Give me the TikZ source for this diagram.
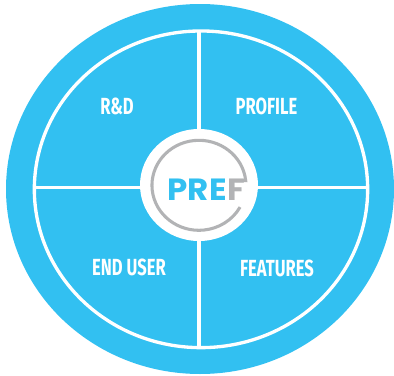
\documentclass[tikz,border=0pt]{standalone}
\usepackage{fontspec}
\usepackage{tikz}
\usetikzlibrary{shapes.geometric}
\newfontfamily\labelfont[FakeStretch=0.71]{Fira Sans}
\newfontfamily\logofont[FakeStretch=1.06]{Poppins}
\definecolor{prefblue}{RGB}{50,192,241}
\definecolor{prefgray}{RGB}{178,179,181}
\tikzset{
  disc/.style={ellipse,inner sep=0pt,outer sep=0pt},
  rule/.style={draw=white,line width=2.5pt},
  sector/.style={inner sep=0pt,text=white,font=\labelfont\bfseries\fontsize{17.5}{17.5}\selectfont},
  logo/.style={inner sep=0pt,font=\logofont\bfseries\fontsize{23}{23}\selectfont}
}
\begin{document}
\begin{tikzpicture}[x=0.75pt,y=0.75pt,yscale=-1,xscale=1]
    \useasboundingbox (0,0) rectangle (394,376);
    
    % Outer disc and white ring
    \node (outer) [disc,fill=prefblue,minimum width=291pt,minimum height=277.5pt] at (200,189) {};
    \node (ring) [disc,rule,minimum width=250pt,minimum height=237.5pt] at (201,189.3) {};
    
    % Cross
    \coordinate (ringN) at (199,31);
    \coordinate (ringS) at (199,348);
    \coordinate (ringW) at (34.5,187.3);
    \coordinate (ringE) at (367.5,187.3);
    \draw [rule] (ringN) -- (ringS);
    \draw [rule] (ringW) -- (ringE);
    
    % Hub
    \node (hub) [disc,fill=white,minimum width=88.5pt,minimum height=84pt] at (199,185) {};
    
    % Logo arc
    \coordinate (arcEnd) at (245.7,180.6);
    \coordinate (barEnd) at (236,180.6);
    \draw [prefgray,line width=2.3pt] (barEnd) -- (arcEnd) arc [start angle=-6,end angle=-331,x radius=47,y radius=45];
    
    % Text Node
    \node (pre) [logo,text=prefblue,anchor=base east] at (227,200) {PRE};
    % Text Node
    \node (eff) [logo,text=prefgray,anchor=base west] at (pre.base east) {F};
    % Text Node
    \node (rd) [sector] at (117,106) {R\&D};
    % Text Node
    \node (profile) [sector] at (266.5,106) {PROFILE};
    % Text Node
    \node (enduser) [sector] at (129,267.5) {END USER};
    % Text Node
    \node (features) [sector] at (277,268) {FEATURES};
    
\end{tikzpicture}
\end{document}
